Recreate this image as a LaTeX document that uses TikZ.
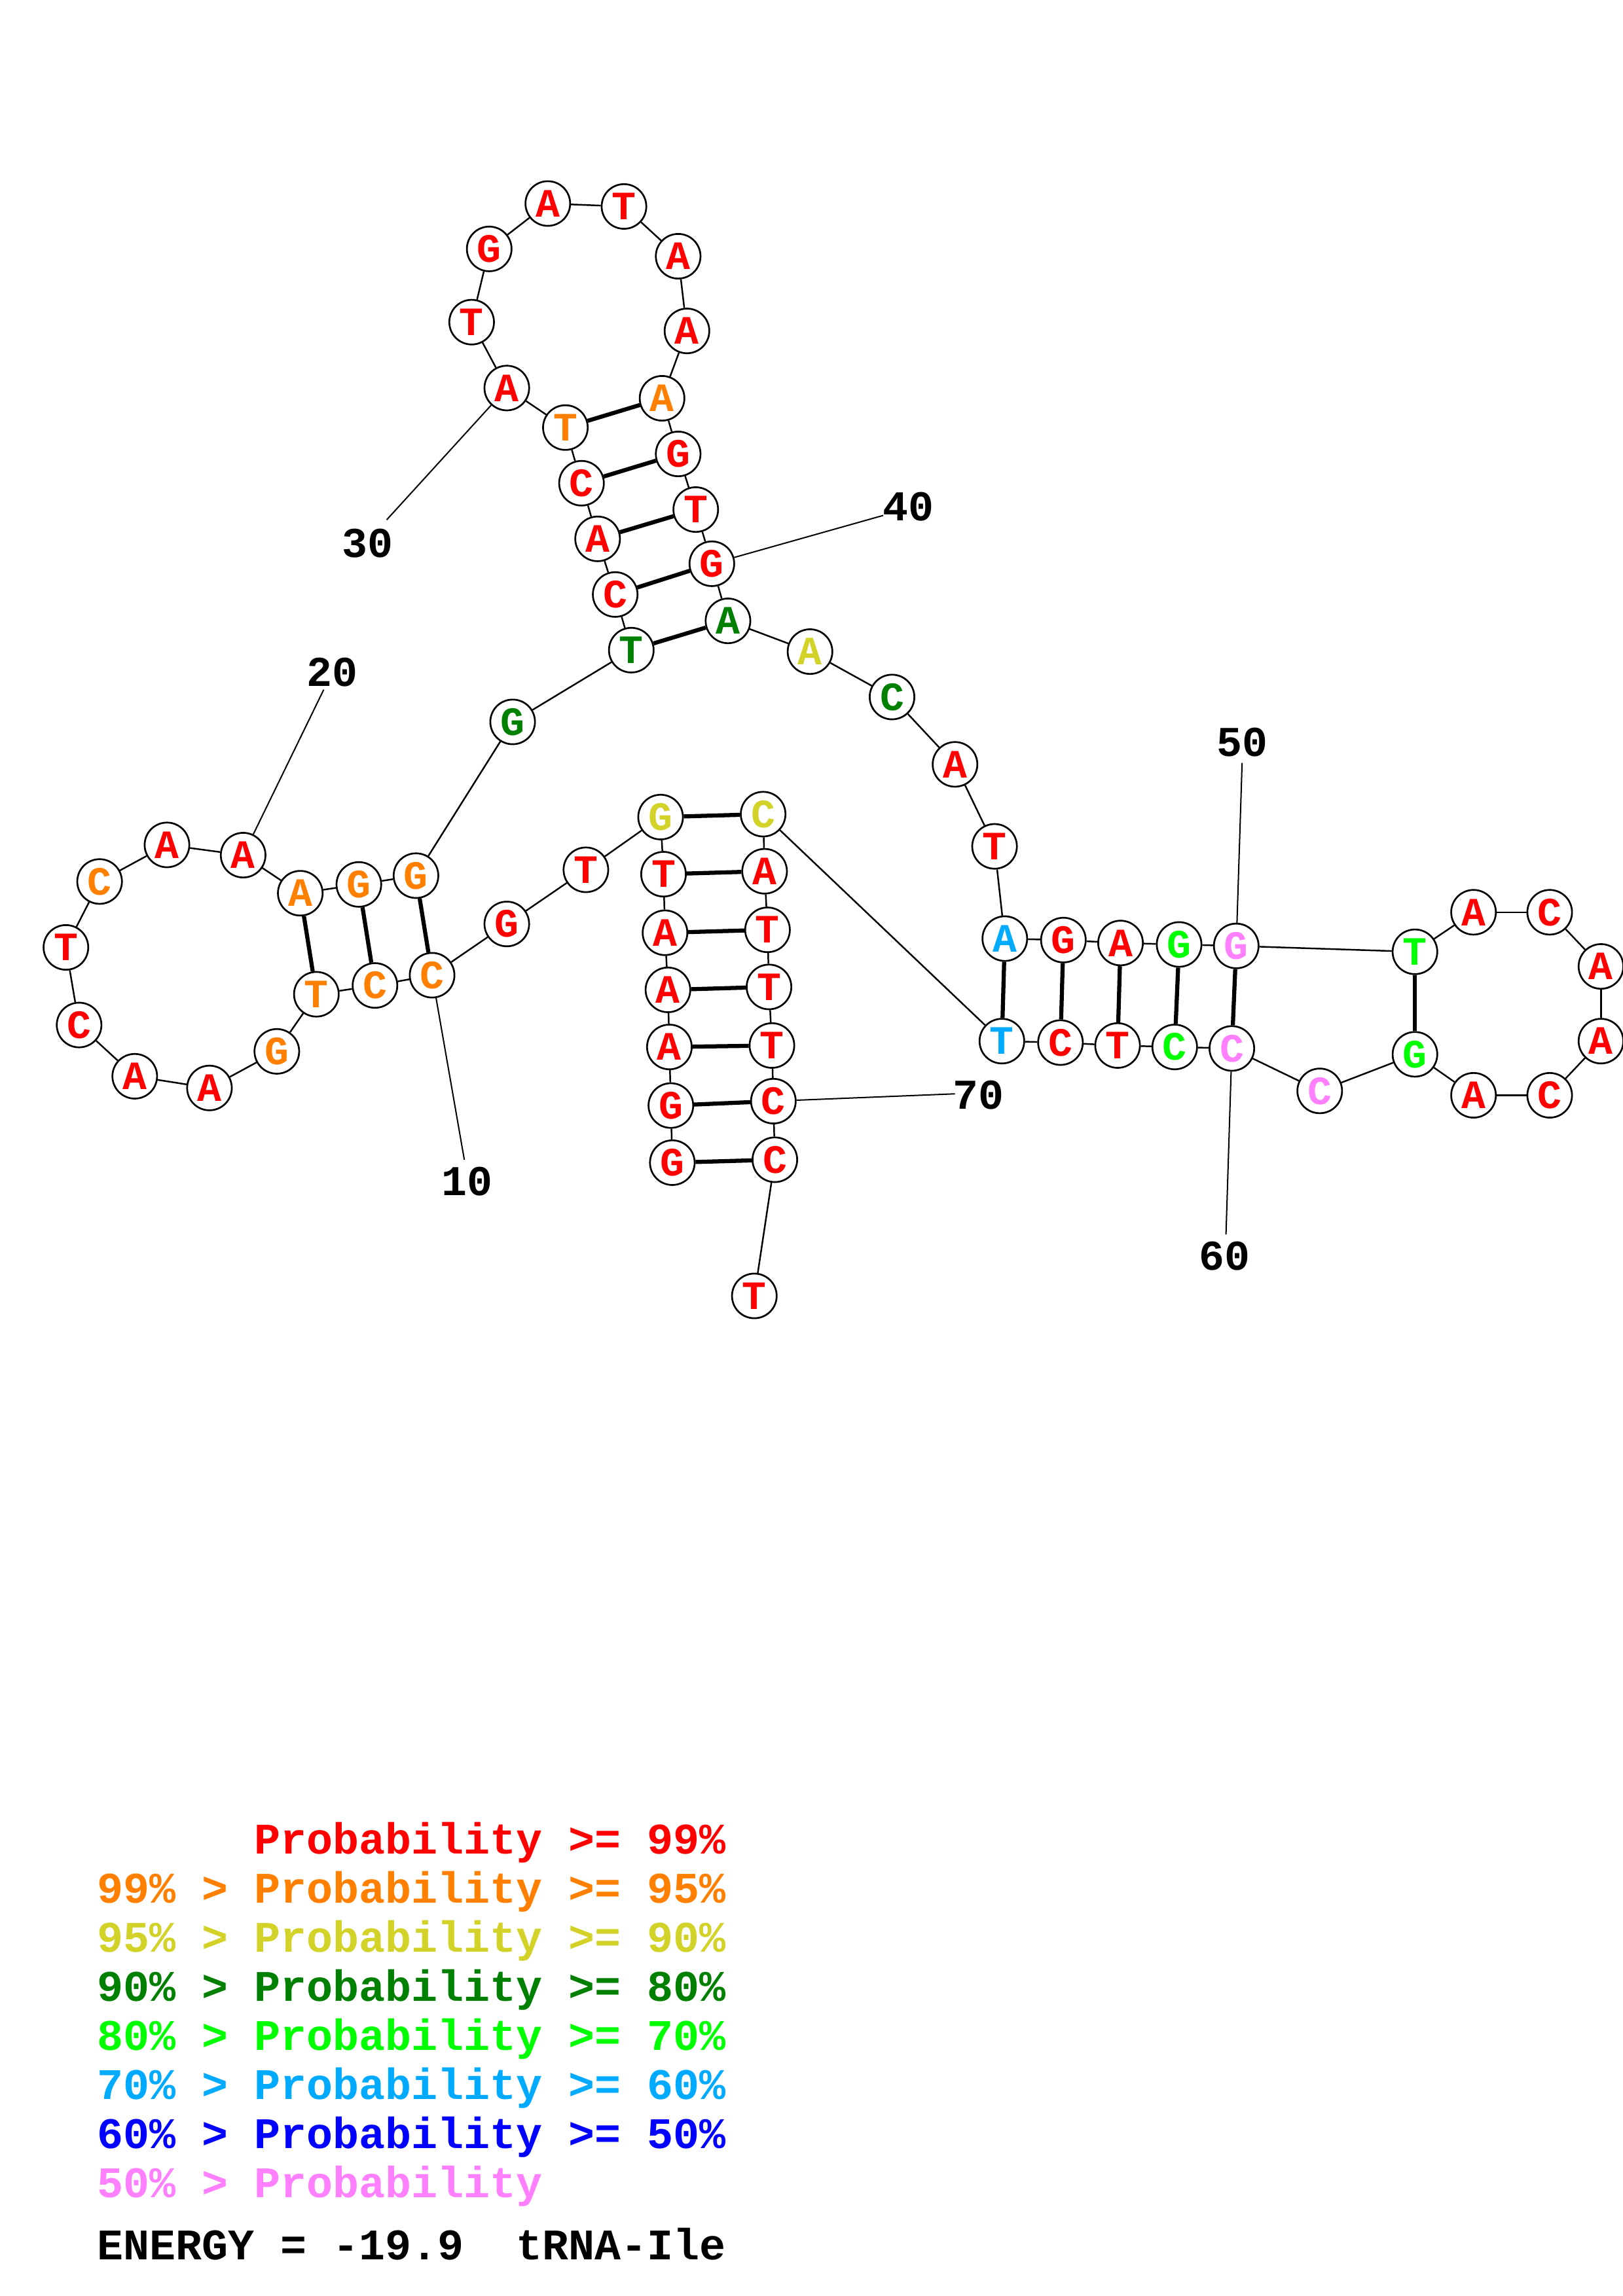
\documentclass[tikz,border=0pt]{standalone}
\usepackage{fontspec}
\newfontfamily\cour{Liberation Mono}
\definecolor{cR}{RGB}{255,0,0}
\definecolor{cO}{RGB}{255,128,0}
\definecolor{cY}{RGB}{210,210,40}
\definecolor{cD}{RGB}{0,128,0}
\definecolor{cG}{RGB}{0,255,0}
\definecolor{cS}{RGB}{0,170,255}
\definecolor{cB}{RGB}{0,0,255}
\definecolor{cP}{RGB}{255,128,255}
\begin{document}
\begin{tikzpicture}[x=1pt,y=-1pt,
  nt/.style={circle, draw, line width=1.2pt, minimum size=30.5pt, inner sep=0pt, fill=white,
    font=\cour\bfseries\fontsize{27.5}{27.5}\selectfont},
  bb/.style={line width=1.1pt},
  pr/.style={line width=2.8pt},
  tk/.style={line width=0.9pt},
  lab/.style={font=\cour\bfseries\fontsize{29}{29}\selectfont, inner sep=0pt},
  leg/.style={font=\cour\bfseries\fontsize{29.8}{29.8}\selectfont, inner sep=0pt, anchor=base west}]
\useasboundingbox (0,0) rectangle (1108,1568);
\fill[white] (0,0) rectangle (1108,1568);
% nucleotides
\foreach \i/\l/\c/\x/\y in {
1/G/cR/459/794, 2/G/cR/458/755, 3/A/cR/457/715, 4/A/cR/456/676, 5/A/cR/454/637,
6/T/cR/453/597, 7/G/cY/451/558, 8/T/cR/400/594, 9/G/cR/346/631, 10/C/cO/295/666,
11/C/cO/256/673, 12/T/cO/216/679, 13/G/cO/189/718, 14/A/cR/143/743, 15/A/cR/92/735,
16/C/cR/54/700, 17/T/cR/45/647, 18/C/cO/68/602, 19/A/cR/114/577, 20/A/cR/166/584,
21/A/cO/205/610, 22/G/cO/245/604, 23/G/cO/284/598, 24/G/cD/350/493, 25/T/cD/431/444,
26/C/cR/420/406, 27/A/cR/408/368, 28/C/cR/397/330, 29/T/cO/386/292, 30/A/cR/346/265,
31/T/cR/322/220, 32/G/cR/334/170, 33/A/cR/374/139, 34/T/cR/426/141, 35/A/cR/463/175,
36/A/cR/469/226, 37/A/cO/452/272, 38/G/cR/463/310, 39/T/cR/475/348, 40/G/cR/486/385,
41/A/cD/497/424, 42/A/cY/553/445, 43/C/cD/609/476, 44/A/cR/652/522, 45/T/cR/679/578,
46/A/cS/686/641, 47/G/cR/726/642, 48/A/cR/765/644, 49/G/cG/805/645, 50/G/cP/844/646,
51/T/cG/966/650, 52/A/cR/1006/623, 53/C/cR/1058/623, 54/A/cR/1093/660, 55/A/cR/1093/711,
56/C/cR/1058/748, 57/A/cR/1006/748, 58/G/cG/966/720, 59/C/cP/901/745, 60/C/cP/841/716,
61/C/cG/802/715, 62/T/cR/763/714, 63/C/cR/724/712, 64/T/cS/684/711, 65/C/cY/521/556,
66/A/cR/522/595, 67/T/cR/524/635, 68/T/cR/525/674, 69/T/cR/527/714, 70/C/cR/528/752,
71/C/cR/529/792, 72/T/cR/515/885}
  \node[nt, text=\c] (n\i) at (\x,\y) {\l};
% backbone
\foreach \i [evaluate=\i as \j using int(\i+1)] in {1,...,71}
  \draw[bb] (n\i) -- (n\j);
% pairs
\foreach \a/\b in {1/71,2/70,3/69,4/68,5/67,6/66,7/65,10/23,11/22,12/21,
  25/41,26/40,27/39,28/38,29/37,46/64,47/63,48/62,49/61,50/60,51/58}
  \draw[pr] (n\a) -- (n\b);
% position labels
\coordinate (e10) at (317,792); \node[lab] (t10) at (319,807) {10};
\coordinate (e20) at (221,471); \node[lab] (t20) at (227,459) {20};
\coordinate (e30) at (264,355); \node[lab] (t30) at (251,371) {30};
\coordinate (e40) at (603,352); \node[lab] (t40) at (620,346) {40};
\coordinate (e50) at (848,521); \node[lab] (t50) at (848,507) {50};
\coordinate (e60) at (837,843); \node[lab] (t60) at (836,858) {60};
\coordinate (e70) at (652,747); \node[lab] (t70) at (668,748) {70};
\foreach \k in {10,20,30,40,50,60,70}
  \draw[tk] (n\k) -- (e\k);
% legend
\node[leg, text=cR] (g1) at (66,1266) {\phantom{99\% > }Probability >= 99\%};
\node[leg, text=cO] (g2) at (66,1299.5) {99\% > Probability >= 95\%};
\node[leg, text=cY] (g3) at (66,1333) {95\% > Probability >= 90\%};
\node[leg, text=cD] (g4) at (66,1366.5) {90\% > Probability >= 80\%};
\node[leg, text=cG] (g5) at (66,1400) {80\% > Probability >= 70\%};
\node[leg, text=cS] (g6) at (66,1433.5) {70\% > Probability >= 60\%};
\node[leg, text=cB] (g7) at (66,1467) {60\% > Probability >= 50\%};
\node[leg, text=cP] (g8) at (66,1500.5) {50\% > Probability};
\node[leg, text=black] (g9) at (66,1543) {ENERGY = -19.9\ \ tRNA-Ile};
\end{tikzpicture}
\end{document}
